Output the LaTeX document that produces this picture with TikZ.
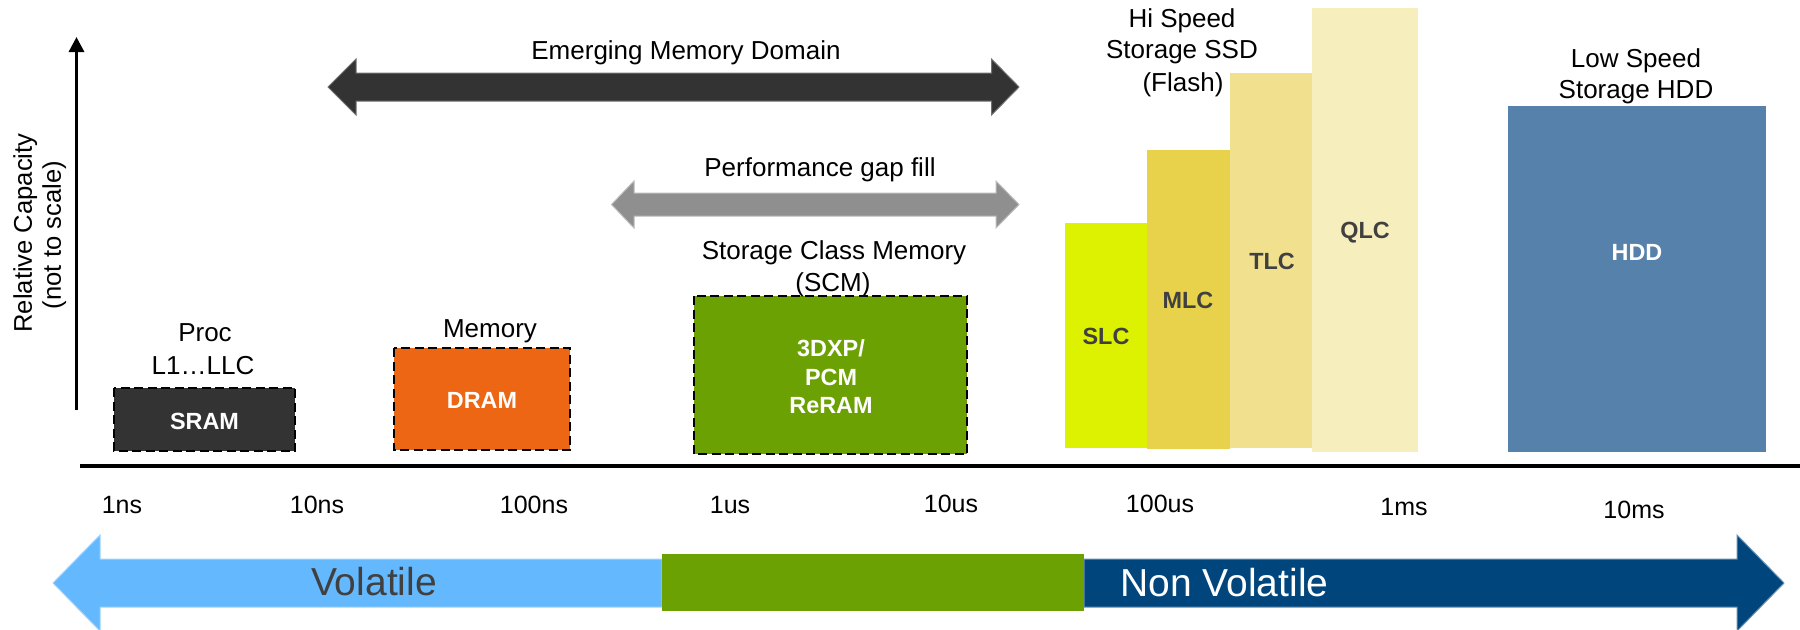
\documentclass[tikz,border=0pt]{standalone}
\usepackage{fontspec}
\setmainfont{Liberation Sans}
\usetikzlibrary{arrows.meta}
\definecolor{darkbox}{HTML}{333333}
\definecolor{dramorange}{HTML}{EC6613}
\definecolor{scmgreen}{HTML}{6CA104}
\definecolor{slcc}{HTML}{DDF200}
\definecolor{mlcc}{HTML}{E8D24B}
\definecolor{tlcc}{HTML}{F1E18F}
\definecolor{qlcc}{HTML}{F7EEBE}
\definecolor{hddc}{HTML}{5581AB}
\definecolor{gaparrow}{HTML}{8F8F8F}
\definecolor{volblue}{HTML}{64B8FD}
\definecolor{nvblue}{HTML}{00467D}
\definecolor{labelgray}{HTML}{404040}
\begin{document}
\begin{tikzpicture}[x=0.5pt,y=-0.5pt,
  lbl/.style={font=\fontsize{13}{15}\selectfont, anchor=base, inner sep=0pt},
  blbl/.style={font=\fontsize{11.7}{14}\selectfont\bfseries, anchor=base, inner sep=0pt},
  tick/.style={font=\fontsize{12.5}{15}\selectfont, anchor=base, inner sep=0pt},
  big/.style={font=\fontsize{19.5}{22}\selectfont, anchor=base, inner sep=0pt},
  dbox/.style={draw=black, line width=1pt, dash pattern=on 4.5pt off 2.25pt},
  axisline/.style={line width=1.7pt, black},
  blockarrow/.style={line width=0.5pt, line join=miter}]
\useasboundingbox (0,0) rectangle (1800,629);

% axes
\coordinate (ybot) at (76.5,410);
\coordinate (ytop) at (76.5,37);
\draw[line width=1.6pt, -{Triangle[width=7.5pt,length=7.5pt]}] (ybot) -- (ytop);
\coordinate (xl) at (80,466);
\coordinate (xr) at (1800,466);
\draw[axisline] (xl) -- (xr);
\node[lbl, font=\fontsize{12.8}{15}\selectfont, rotate=90] (yl1) at (32,233) {Relative Capacity};
\node[lbl, font=\fontsize{12.8}{15}\selectfont, rotate=90] (yl2) at (61,235) {(not to scale)};

% block arrows
\filldraw[blockarrow, fill=darkbox, draw=darkbox!70!white] (328,87) -- (356,59) -- (356,73) -- (991.5,73) -- (991.5,59) -- (1019,87)
  -- (991.5,115) -- (991.5,101) -- (356,101) -- (356,115) -- cycle;
\node[lbl] (emerg) at (686,59) {Emerging Memory Domain};
\filldraw[blockarrow, fill=gaparrow, draw=gaparrow!60!white] (611.5,204.5) -- (634,181) -- (634,193) -- (996,193) -- (996,181) -- (1019,204.5)
  -- (996,228) -- (996,216) -- (634,216) -- (634,228) -- cycle;
\node[lbl] (perf) at (820,176) {Performance gap fill};

% memory boxes
\path[dbox, fill=darkbox] (114,388) rectangle (295,451);
\node[blbl, text=white] (sram) at (204.5,429) {SRAM};
\node[lbl] (proc1) at (205,341) {Proc};
\node[lbl] (proc2) at (203,374) {L1…LLC};

\path[dbox, fill=dramorange] (394,348) rectangle (570,450);
\node[blbl, text=white] (dram) at (482,408) {DRAM};
\node[lbl] (mem) at (490,337) {Memory};

\path[dbox, fill=scmgreen] (694,296) rectangle (967,454);
\node[blbl, text=white] (scma) at (831,356) {3DXP/};
\node[blbl, text=white] (scmb) at (831,385) {PCM};
\node[blbl, text=white] (scmc) at (831,413) {ReRAM};
\node[lbl] (scm1) at (834,259) {Storage Class Memory};
\node[lbl] (scm2) at (833,291) {(SCM)};

% flash bars
\fill[slcc] (1065,223) rectangle (1147,448);
\fill[mlcc] (1147,150) rectangle (1230,449);
\fill[tlcc] (1230,73) rectangle (1312,448);
\fill[qlcc] (1312,8) rectangle (1418,452);
\node[blbl, text=labelgray] (slc) at (1106,344) {SLC};
\node[blbl, text=labelgray] (mlc) at (1188,308) {MLC};
\node[blbl, text=labelgray] (tlc) at (1272,269) {TLC};
\node[blbl, text=labelgray] (qlc) at (1365,238) {QLC};
\node[lbl] (hs1) at (1182,27) {Hi Speed};
\node[lbl] (hs2) at (1182,58) {Storage SSD};
\node[lbl] (hs3) at (1183,91) {(Flash)};

% HDD
\fill[hddc] (1508,106) rectangle (1766,452);
\node[blbl, text=white] (hdd) at (1637,260) {HDD};
\node[lbl] (ls1) at (1636,67) {Low Speed};
\node[lbl] (ls2) at (1636,98) {Storage HDD};

% ticks
\node[tick] (t1) at (122,513) {1ns};
\node[tick] (t2) at (317,513) {10ns};
\node[tick] (t3) at (534,513) {100ns};
\node[tick] (t4) at (730,513) {1us};
\node[tick] (t5) at (951,512) {10us};
\node[tick] (t6) at (1160,512) {100us};
\node[tick] (t7) at (1404,515) {1ms};
\node[tick] (t8) at (1634,518) {10ms};

% bottom band
\filldraw[blockarrow, fill=volblue, draw=volblue!60!white] (53,583) -- (100,535) -- (100,559) -- (662,559) -- (662,607) -- (100,607) -- (100,631) -- cycle;
\filldraw[blockarrow, fill=nvblue, draw=nvblue!60!white] (1084,559) -- (1737,559) -- (1737,535) -- (1784,583) -- (1737,631) -- (1737,607) -- (1084,607) -- cycle;
\fill[scmgreen] (662,554) rectangle (1084,611);
\node[big, text=labelgray] (vol) at (374,595) {Volatile};
\node[big, text=white, anchor=base west] (nvol) at (1120,596) {Non Volatile};
\end{tikzpicture}
\end{document}
